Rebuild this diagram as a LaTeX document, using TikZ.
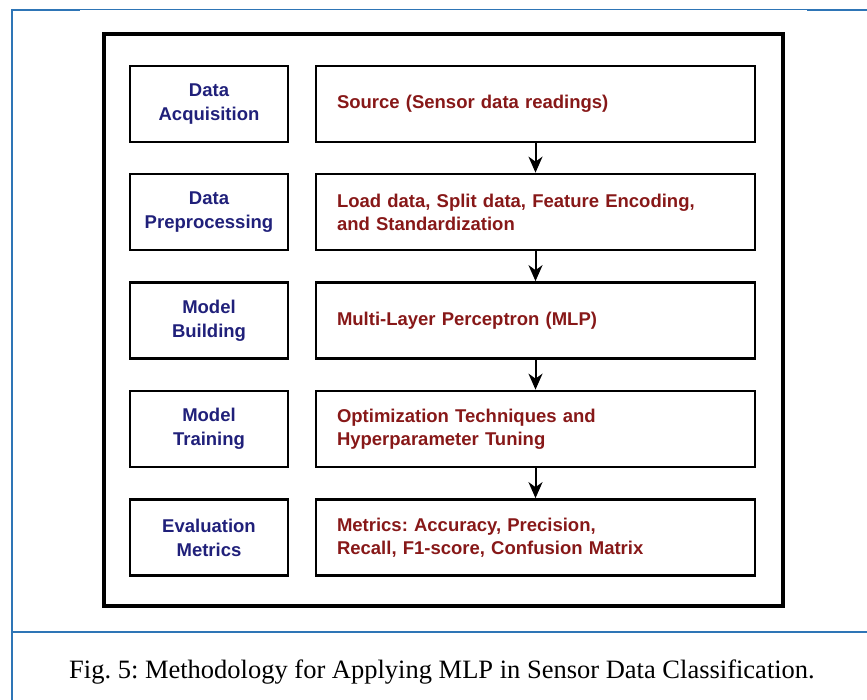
\documentclass[tikz,border=0pt]{standalone}
\usepackage{fontspec}
\setmainfont{Liberation Serif}
\newfontfamily\boxfont{Liberation Sans}
\usetikzlibrary{arrows.meta}
\frenchspacing
\definecolor{framblue}{RGB}{46,117,182}
\definecolor{stagecol}{RGB}{32,32,122}
\definecolor{taskcol}{RGB}{135,24,24}
\tikzset{
  stage/.style={draw=black, line width=2.7pt, minimum width=158pt, minimum height=76pt,
    inner sep=0pt, align=center, text=stagecol,
    font=\boxfont\bfseries\fontsize{18.5}{24}\selectfont},
  task/.style={draw=black, line width=2.7pt, minimum height=76pt, text width=397pt,
    inner xsep=21pt, inner ysep=0pt, align=left, text=taskcol,
    font=\boxfont\bfseries\fontsize{18.5}{23}\selectfont},
  flow/.style={line width=2pt, -{Stealth[length=16pt,width=14pt,inset=5pt]}},
  rule/.style={draw=framblue, line width=2.5pt},
}
\begin{document}
\begin{tikzpicture}[x=1pt,y=-1pt]
\useasboundingbox (0,0) rectangle (867,700);
% page frame
\draw[framblue, line width=1pt] (12,9.5) -- (867,9.5);
\draw[rule] (12,10) -- (80,10);
\draw[rule] (807,10) -- (867,10);
\draw[rule] (12,9) -- (12,700);
\draw[rule] (12,632) -- (867,632);
% outer box
\draw[line width=3.2pt] (104,34) rectangle (783,606);
% stages
\node[stage] (s1) at (209,104)   {Data\\Acquisition};
\node[stage] (s2) at (209,212)   {Data\\Preprocessing};
\node[stage] (s3) at (209,320.5) {Model\\Building};
\node[stage] (s4) at (209,429)   {Model\\Training};
\node[stage] (s5) at (209,537.5) {Evaluation\\Metrics};
% tasks
\node[task] (t1) at (535.5,104)   {Source (Sensor data readings)};
\node[task] (t2) at (535.5,212)   {Load data, Split data, Feature Encoding,\\and Standardization};
\node[task] (t3) at (535.5,320.5) {Multi-Layer Perceptron (MLP)};
\node[task] (t4) at (535.5,429)   {Optimization Techniques and\\Hyperparameter Tuning};
\node[task] (t5) at (535.5,537.5) {Metrics: Accuracy, Precision,\\Recall, F1-score, Confusion Matrix};
% flow arrows
\draw[flow] (t1.south) -- (t2.north);
\draw[flow] (t2.south) -- (t3.north);
\draw[flow] (t3.south) -- (t4.north);
\draw[flow] (t4.south) -- (t5.north);
% caption
\node[anchor=base, font=\fontsize{26.5}{30}\selectfont] (cap) at (442,678)
  {Fig. 5: Methodology for Applying MLP in Sensor Data Classification.};
\end{tikzpicture}
\end{document}
